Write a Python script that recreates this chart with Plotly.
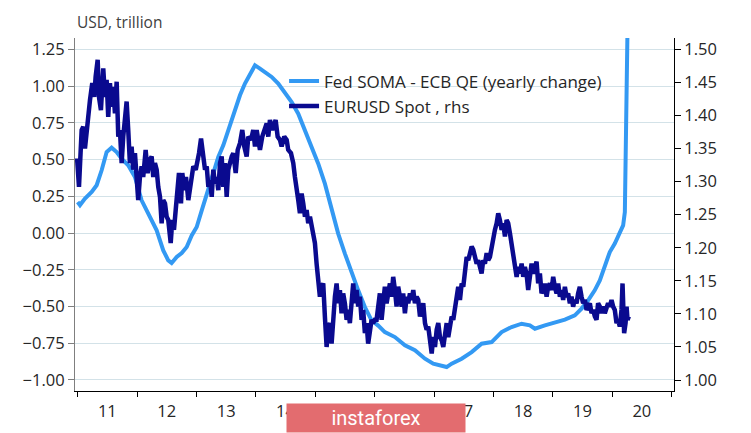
import numpy as np
import pandas as pd
import plotly.graph_objects as go

# ---------------- data (decimal years) ----------------
soma_t = [2011.000, 2011.039, 2011.123, 2011.236, 2011.320, 2011.404, 2011.488, 2011.572,
          2011.657, 2011.741, 2011.852, 2011.965, 2012.077, 2012.217, 2012.330, 2012.441,
          2012.525, 2012.582, 2012.667, 2012.751, 2012.835, 2012.919, 2013.003, 2013.088,
          2013.172, 2013.256, 2013.367, 2013.451, 2013.535, 2013.564, 2013.648, 2013.732,
          2013.816, 2013.901, 2013.985, 2014.069, 2014.153, 2014.266, 2014.377, 2014.490,
          2014.603, 2014.714, 2014.827, 2014.939, 2015.051, 2015.163, 2015.276, 2015.387,
          2015.500, 2015.613, 2015.724, 2015.837, 2015.949, 2016.061, 2016.173, 2016.342,
          2016.510, 2016.678, 2016.847, 2016.986, 2017.128, 2017.212, 2017.296, 2017.465,
          2017.633, 2017.801, 2017.970, 2018.138, 2018.306, 2018.475, 2018.614, 2018.699,
          2018.867, 2019.035, 2019.204, 2019.372, 2019.485, 2019.596, 2019.707, 2019.793,
          2019.877, 2019.961, 2020.045, 2020.129, 2020.185, 2020.214, 2020.226, 2020.231,
          2020.247, 2020.259]
soma_v = [0.211, 0.190, 0.234, 0.279, 0.325, 0.427, 0.551, 0.581,
          0.551, 0.506, 0.461, 0.381, 0.222, 0.109, 0.018, -0.118,
          -0.186, -0.204, -0.163, -0.136, -0.095, -0.016, 0.041, 0.154,
          0.268, 0.359, 0.517, 0.597, 0.700, 0.744, 0.835, 0.937,
          1.017, 1.085, 1.141, 1.119, 1.096, 1.062, 1.017, 0.959,
          0.891, 0.812, 0.699, 0.585, 0.472, 0.336, 0.154, -0.004,
          -0.140, -0.276, -0.390, -0.504, -0.594, -0.630, -0.674, -0.708,
          -0.764, -0.798, -0.855, -0.889, -0.907, -0.912, -0.889, -0.855,
          -0.810, -0.753, -0.742, -0.674, -0.640, -0.617, -0.628, -0.651,
          -0.628, -0.612, -0.589, -0.560, -0.514, -0.458, -0.390, -0.322,
          -0.231, -0.129, -0.072, -0.004, 0.052, 0.143, 0.472, 0.925,
          0.971, 1.400]

eur_t = [2010.990, 2011.022, 2011.067, 2011.094, 2011.123, 2011.168, 2011.207, 2011.246,
         2011.279, 2011.303, 2011.337, 2011.359, 2011.392, 2011.431, 2011.460, 2011.488,
         2011.515, 2011.544, 2011.572, 2011.599, 2011.628, 2011.657, 2011.684, 2011.712,
         2011.741, 2011.768, 2011.796, 2011.825, 2011.852, 2011.880, 2011.909, 2011.936,
         2011.965, 2011.993, 2012.020, 2012.049, 2012.077, 2012.104, 2012.145, 2012.178,
         2012.217, 2012.246, 2012.273, 2012.301, 2012.330, 2012.357, 2012.386, 2012.414,
         2012.441, 2012.470, 2012.498, 2012.525, 2012.566, 2012.593, 2012.621, 2012.650,
         2012.684, 2012.705, 2012.739, 2012.761, 2012.795, 2012.823, 2012.862, 2012.891,
         2012.919, 2012.946, 2012.987, 2013.013, 2013.042, 2013.076, 2013.114, 2013.143,
         2013.172, 2013.199, 2013.227, 2013.256, 2013.283, 2013.311, 2013.340, 2013.367,
         2013.396, 2013.424, 2013.451, 2013.480, 2013.508, 2013.535, 2013.593, 2013.620,
         2013.660, 2013.694, 2013.732, 2013.771, 2013.805, 2013.845, 2013.872, 2013.918,
         2013.956, 2013.985, 2014.013, 2014.040, 2014.069, 2014.108, 2014.141, 2014.182,
         2014.209, 2014.237, 2014.276, 2014.310, 2014.333, 2014.367, 2014.406, 2014.434,
         2014.478, 2014.519, 2014.545, 2014.591, 2014.630, 2014.658, 2014.687, 2014.714,
         2014.742, 2014.771, 2014.798, 2014.827, 2014.855, 2014.882, 2014.911, 2014.939,
         2014.966, 2014.995, 2015.023, 2015.051, 2015.079, 2015.108, 2015.135, 2015.163,
         2015.192, 2015.219, 2015.247, 2015.276, 2015.303, 2015.332, 2015.360, 2015.387,
         2015.416, 2015.444, 2015.471, 2015.500, 2015.529, 2015.555, 2015.584, 2015.613,
         2015.640, 2015.668, 2015.697, 2015.724, 2015.753, 2015.781, 2015.808, 2015.837,
         2015.865, 2015.892, 2015.921, 2015.949, 2015.976, 2016.005, 2016.034, 2016.061,
         2016.089, 2016.118, 2016.145, 2016.173, 2016.202, 2016.229, 2016.258, 2016.286,
         2016.313, 2016.342, 2016.370, 2016.397, 2016.426, 2016.455, 2016.481, 2016.510,
         2016.539, 2016.566, 2016.594, 2016.623, 2016.650, 2016.678, 2016.707, 2016.734,
         2016.763, 2016.791, 2016.818, 2016.847, 2016.875, 2016.902, 2016.931, 2016.960,
         2016.986, 2017.015, 2017.044, 2017.071, 2017.099, 2017.128, 2017.155, 2017.184,
         2017.212, 2017.239, 2017.268, 2017.296, 2017.323, 2017.352, 2017.380, 2017.407,
         2017.436, 2017.465, 2017.492, 2017.520, 2017.549, 2017.576, 2017.604, 2017.633,
         2017.660, 2017.689, 2017.717, 2017.744, 2017.773, 2017.801, 2017.828, 2017.857,
         2017.886, 2017.912, 2017.941, 2017.970, 2017.997, 2018.025, 2018.054, 2018.081,
         2018.109, 2018.138, 2018.165, 2018.194, 2018.222, 2018.249, 2018.278, 2018.306,
         2018.333, 2018.362, 2018.391, 2018.418, 2018.446, 2018.475, 2018.502, 2018.530,
         2018.559, 2018.586, 2018.615, 2018.643, 2018.670, 2018.699, 2018.727, 2018.754,
         2018.783, 2018.811, 2018.838, 2018.867, 2018.896, 2018.922, 2018.951, 2018.980,
         2019.007, 2019.035, 2019.064, 2019.091, 2019.120, 2019.148, 2019.175, 2019.204,
         2019.232, 2019.259, 2019.288, 2019.316, 2019.343, 2019.372, 2019.401, 2019.427,
         2019.456, 2019.485, 2019.512, 2019.541, 2019.569, 2019.596, 2019.625, 2019.653,
         2019.680, 2019.709, 2019.737, 2019.764, 2019.793, 2019.821, 2019.848, 2019.877,
         2019.905, 2019.932, 2019.961, 2019.990, 2020.017, 2020.045, 2020.074, 2020.101,
         2020.129, 2020.158, 2020.175, 2020.192, 2020.202, 2020.226, 2020.243, 2020.259,
         2020.281]
eur_v = [1.335, 1.292, 1.378, 1.383, 1.350, 1.393, 1.423, 1.449,
         1.428, 1.459, 1.484, 1.428, 1.408, 1.471, 1.428, 1.454,
         1.398, 1.449, 1.413, 1.443, 1.403, 1.451, 1.368, 1.378,
         1.328, 1.368, 1.388, 1.421, 1.378, 1.328, 1.353, 1.318,
         1.343, 1.292, 1.272, 1.307, 1.323, 1.307, 1.348, 1.313,
         1.333, 1.338, 1.307, 1.328, 1.318, 1.292, 1.277, 1.237,
         1.272, 1.267, 1.247, 1.242, 1.207, 1.242, 1.227, 1.257,
         1.287, 1.313, 1.267, 1.313, 1.287, 1.307, 1.272, 1.292,
         1.307, 1.323, 1.318, 1.328, 1.343, 1.365, 1.338, 1.318,
         1.323, 1.292, 1.302, 1.277, 1.318, 1.297, 1.307, 1.287,
         1.328, 1.338, 1.292, 1.328, 1.277, 1.318, 1.338, 1.343,
         1.313, 1.348, 1.358, 1.378, 1.353, 1.338, 1.368, 1.363,
         1.378, 1.353, 1.378, 1.363, 1.348, 1.368, 1.378, 1.388,
         1.368, 1.393, 1.378, 1.388, 1.393, 1.368, 1.363, 1.353,
         1.368, 1.363, 1.348, 1.343, 1.328, 1.307, 1.292, 1.272,
         1.252, 1.282, 1.267, 1.247, 1.257, 1.237, 1.247, 1.232,
         1.217, 1.207, 1.176, 1.146, 1.126, 1.141, 1.146, 1.096,
         1.050, 1.081, 1.086, 1.055, 1.101, 1.126, 1.146, 1.116,
         1.136, 1.101, 1.131, 1.116, 1.091, 1.106, 1.086, 1.121,
         1.146, 1.116, 1.136, 1.111, 1.126, 1.091, 1.106, 1.071,
         1.086, 1.055, 1.076, 1.091, 1.086, 1.091, 1.091, 1.110,
         1.131, 1.091, 1.126, 1.141, 1.116, 1.136, 1.146, 1.126,
         1.156, 1.136, 1.111, 1.141, 1.126, 1.111, 1.131, 1.101,
         1.126, 1.116, 1.131, 1.121, 1.136, 1.116, 1.126, 1.121,
         1.096, 1.111, 1.116, 1.086, 1.076, 1.081, 1.060, 1.040,
         1.065, 1.050, 1.076, 1.086, 1.065, 1.060, 1.050, 1.076,
         1.086, 1.065, 1.081, 1.096, 1.091, 1.111, 1.126, 1.141,
         1.121, 1.146, 1.141, 1.166, 1.186, 1.181, 1.192, 1.202,
         1.197, 1.186, 1.176, 1.181, 1.171, 1.161, 1.181, 1.176,
         1.192, 1.181, 1.186, 1.202, 1.212, 1.227, 1.237, 1.252,
         1.242, 1.227, 1.237, 1.217, 1.242, 1.237, 1.222, 1.207,
         1.197, 1.176, 1.156, 1.171, 1.161, 1.176, 1.156, 1.171,
         1.160, 1.136, 1.166, 1.176, 1.161, 1.171, 1.179, 1.146,
         1.161, 1.131, 1.136, 1.146, 1.126, 1.141, 1.146, 1.136,
         1.156, 1.141, 1.131, 1.146, 1.126, 1.136, 1.121, 1.141,
         1.126, 1.131, 1.116, 1.126, 1.111, 1.121, 1.116, 1.131,
         1.141, 1.126, 1.116, 1.121, 1.106, 1.111, 1.116, 1.101,
         1.106, 1.096, 1.091, 1.116, 1.111, 1.101, 1.111, 1.101,
         1.111, 1.116, 1.111, 1.121, 1.111, 1.106, 1.086, 1.091,
         1.081, 1.106, 1.146, 1.106, 1.071, 1.086, 1.111, 1.091,
         1.096]

left_ticks = [-1.00, -0.75, -0.50, -0.25, 0.00, 0.25, 0.50, 0.75, 1.00, 1.25]
right_ticks = [1.00, 1.05, 1.10, 1.15, 1.20, 1.25, 1.30, 1.35, 1.40, 1.45, 1.50]

name_soma = "Fed SOMA - ECB QE (yearly change)"
name_eur = "EURUSD Spot , rhs"


def to_date(y):
    yr = int(np.floor(y))
    start = pd.Timestamp(year=yr, month=1, day=1)
    end = pd.Timestamp(year=yr + 1, month=1, day=1)
    return start + (end - start) * (y - yr)


soma_x = [to_date(t) for t in soma_t]
eur_x = [to_date(t) for t in eur_t]

FONT = "Open Sans"
LIGHT = "#3399f3"
DARK = "#0a0a8f"
TXT = "#262626"

fig = go.Figure()
fig.add_trace(go.Scatter(x=soma_x, y=soma_v, name=name_soma, mode="lines",
                         line=dict(color=LIGHT, width=4), yaxis="y"))
fig.add_trace(go.Scatter(x=eur_x, y=eur_v, name=name_eur, mode="lines",
                         line=dict(color=DARK, width=4.5), yaxis="y2"))

# page body has an 8px margin, so the figure is sized to 743x425
fig.update_layout(
    width=743, height=425,
    margin=dict(l=67, r=77, t=30, b=42),
    paper_bgcolor="white", plot_bgcolor="white",
    font=dict(family=FONT, size=16, color=TXT),
    showlegend=True,
    legend=dict(x=0.349, y=0.928, xanchor="left", yanchor="top",
                bgcolor="rgba(0,0,0,0)", font=dict(size=17, color=TXT),
                tracegroupgap=0),
    xaxis=dict(type="date",
               range=[to_date(2010.955), to_date(2021.04)],
               dtick="M12", tick0="2011-01-01", tickformat="%y",
               ticklabelmode="period", ticks="outside", ticklen=5,
               tickcolor="#000000", showline=True, linecolor="#000000",
               linewidth=1, showgrid=False, zeroline=False,
               tickfont=dict(size=16.5, color=TXT)),
    yaxis=dict(range=[-1.075, 1.327], tickvals=left_ticks, tickformat=".2f",
               ticks="outside", ticklen=6, tickcolor="#7f7f7f",
               showline=True, linecolor="#7f7f7f", linewidth=1,
               showgrid=True, gridcolor="#d3e2e8", gridwidth=1,
               zeroline=False, tickfont=dict(size=16.5, color=TXT)),
    yaxis2=dict(range=[0.9834, 1.5171], tickvals=right_ticks, tickformat=".2f",
                overlaying="y", side="right", anchor="x",
                ticks="outside", ticklen=6, tickcolor="#000000",
                showline=True, linecolor="#000000", linewidth=1,
                showgrid=False, zeroline=False,
                tickfont=dict(size=16.5, color=TXT)),
)

fig.add_annotation(text="USD, trillion", xref="paper", yref="paper",
                   x=0, y=1.0, xanchor="left", yanchor="bottom", yshift=3,
                   showarrow=False, font=dict(family=FONT, size=15.5, color="#404040"))

fig.add_annotation(text="instaforex", xref="paper", yref="paper",
                   x=0.5025, y=-0.0765, xanchor="center", yanchor="middle",
                   width=176, height=26, bgcolor="#e36c6f", borderpad=1,
                   showarrow=False,
                   font=dict(family="Roboto", size=20, color="white"))

fig.write_html("out.html")
